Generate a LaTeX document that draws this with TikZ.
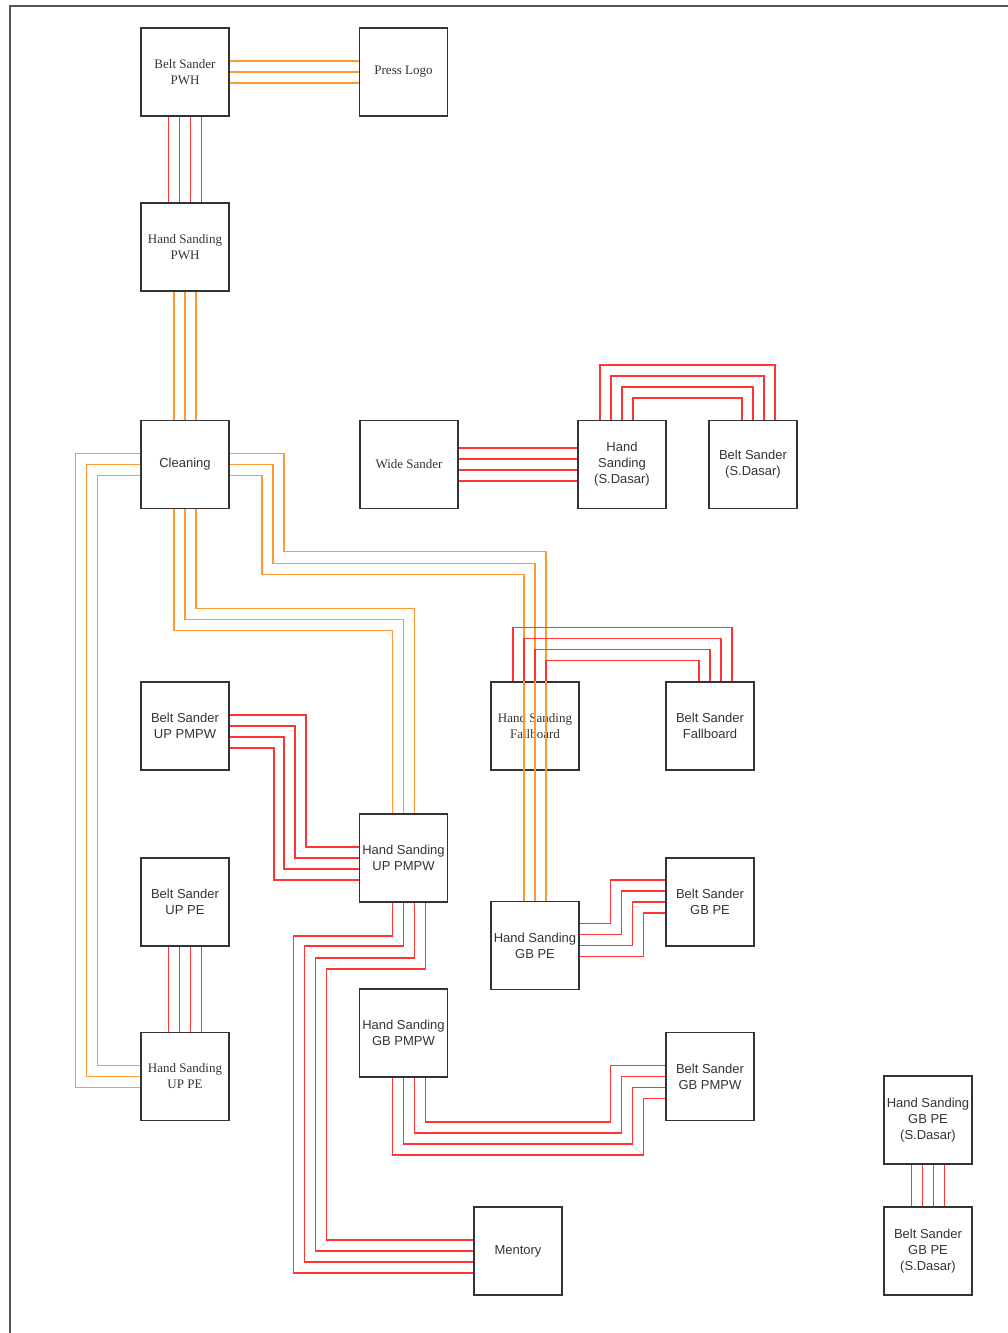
\documentclass[tikz,border=0pt]{standalone}
\usepackage{fontspec}
\setmainfont{Liberation Serif}
\setsansfont{Liberation Sans}
\definecolor{boxc}{HTML}{333333}
\definecolor{txtc}{HTML}{333333}
\definecolor{framec}{HTML}{555555}
\definecolor{orgc}{HTML}{FF9933}
\definecolor{redc}{HTML}{FF3333}
\begin{document}
\begin{tikzpicture}[x=1pt,y=-1pt,
  box/.style={draw=boxc, line width=1.5pt, minimum width=88pt, minimum height=88pt, inner sep=1pt, align=center, text=txtc},
  sf/.style={box, font=\sffamily\fontsize{13}{16}\selectfont},
  rm/.style={box, font=\rmfamily\fontsize{13}{16}\selectfont},
  ol/.style={draw=orgc, line width=1.5pt},
  rl/.style={draw=redc, line width=1.5pt},
]
\useasboundingbox (0,0) rectangle (1007,1333);
\draw[framec, line width=2pt] (1008,6) -- (10,6) -- (10,1334);

% nodes
\node[rm] (bsPWH) at (185,72) {Belt Sander\\PWH};
\node[rm] (press) at (403.5,72) {Press Logo};
\node[rm] (hsPWH) at (185,247) {Hand Sanding\\PWH};
\node[sf] (clean) at (185,464.5) {Cleaning};
\node[rm, minimum width=98pt] (wide) at (409,464.5) {Wide Sander};
\node[sf] (hsSD) at (622,464.5) {Hand\\Sanding\\(S.Dasar)};
\node[sf] (bsSD) at (753,464.5) {Belt Sander\\(S.Dasar)};
\node[sf] (bsUPPMPW) at (185,726) {Belt Sander\\UP PMPW};
\node[rm] (hsFB) at (535,726) {Hand Sanding\\Fallboard};
\node[sf] (bsFB) at (710,726) {Belt Sander\\Fallboard};
\node[sf] (hsUPPMPW) at (403.5,858) {Hand Sanding\\UP PMPW};
\node[sf] (bsUPPE) at (185,902) {Belt Sander\\UP PE};
\node[sf] (hsGBPE) at (535,945.5) {Hand Sanding\\GB PE};
\node[sf] (bsGBPE) at (710,902) {Belt Sander\\GB PE};
\node[sf] (hsGBPMPW) at (403.5,1033) {Hand Sanding\\GB PMPW};
\node[sf] (bsGBPMPW) at (710,1076.5) {Belt Sander\\GB PMPW};
\node[rm] (hsUPPE) at (185,1076.5) {Hand Sanding\\UP PE};
\node[sf] (hsGBPESD) at (928,1120) {Hand Sanding\\GB PE\\(S.Dasar)};
\node[sf] (mentory) at (518,1251) {Mentory};
\node[sf] (bsGBPESD) at (928,1251) {Belt Sander\\GB PE\\(S.Dasar)};

% orange connectors
\foreach \a in {11,0,-11}
  \draw[ol] ([yshift=\a pt]bsPWH.east) -- ([yshift=\a pt]press.west);
\foreach \a in {-11,0,11}
  \draw[ol] ([xshift=\a pt]hsPWH.south) -- ([xshift=\a pt]clean.north);
\foreach \a/\d/\b in {11/65/-11, 0/54/0, -11/43/11}
  \draw[ol] ([yshift=\a pt]clean.west) -| ([xshift=-\d pt,yshift=\b pt]hsUPPE.west) -- ([yshift=\b pt]hsUPPE.west);
\foreach \a/\h/\v/\b in {11/54/98/11, 0/43/99/0, -11/32/99/-11}
  \draw[ol] ([yshift=\a pt]clean.east) -- ++(\h,0) -- ++(0,\v) -| ([xshift=\b pt]hsGBPE.north);
\foreach \a/\v in {11/99, 0/110, -11/121}
  \draw[ol] ([xshift=\a pt]clean.south) -- ++(0,\v) -| ([xshift=\a pt]hsUPPMPW.north);

% red connectors
\foreach \a in {-16.5,-5.5,5.5,16.5}
  \draw[rl] ([xshift=\a pt]bsPWH.south) -- ([xshift=\a pt]hsPWH.north);
\foreach \a in {16.5,5.5,-5.5,-16.5}
  \draw[rl] ([yshift=\a pt]wide.east) -- ([yshift=\a pt]hsSD.west);
\foreach \a/\v/\b in {-22/55/22, -11/44/11, 0/33/0, 11/22/-11}
  \draw[rl] ([xshift=\a pt]hsSD.north) -- ++(0,-\v) -| ([xshift=\b pt]bsSD.north);
\foreach \a/\v/\b in {-22/54/22, -11/43/11, 0/32/0, 11/21/-11}
  \draw[rl] ([xshift=\a pt]hsFB.north) -- ++(0,-\v) -| ([xshift=\b pt]bsFB.north);
\foreach \a/\h in {11/76, 0/65, -11/54, -22/44}
  \draw[rl] ([yshift=\a pt]bsUPPMPW.east) -- ++(\h,0) |- ([yshift=\a pt]hsUPPMPW.west);
\foreach \a/\v/\d/\b in {-11/33/180/-22, 0/43/169/-11, 11/55/158/0, 22/66/147/11}
  \draw[rl] ([xshift=\a pt]hsUPPMPW.south) -- ++(0,\v) -| ([xshift=-\d pt,yshift=\b pt]mentory.west) -- ([yshift=\b pt]mentory.west);
\foreach \a/\v/\d/\b in {-11/77/22/-22, 0/66/33/-11, 11/55/44/0, 22/44/55/11}
  \draw[rl] ([xshift=\a pt]hsGBPMPW.south) -- ++(0,\v) -| ([xshift=-\d pt,yshift=\b pt]bsGBPMPW.west) -- ([yshift=\b pt]bsGBPMPW.west);
\foreach \a/\d in {22/55, 11/44, 0/33, -11/22}
  \draw[rl] ([yshift=\a pt]hsGBPE.east) -| ([xshift=-\d pt,yshift=\a pt]bsGBPE.west) -- ([yshift=\a pt]bsGBPE.west);
\foreach \a in {-16.5,-5.5,5.5,16.5}
  \draw[rl] ([xshift=\a pt]bsUPPE.south) -- ([xshift=\a pt]hsUPPE.north);
\foreach \a in {-16.5,-5.5,5.5,16.5}
  \draw[rl] ([xshift=\a pt]hsGBPESD.south) -- ([xshift=\a pt]bsGBPESD.north);
\end{tikzpicture}
\end{document}
